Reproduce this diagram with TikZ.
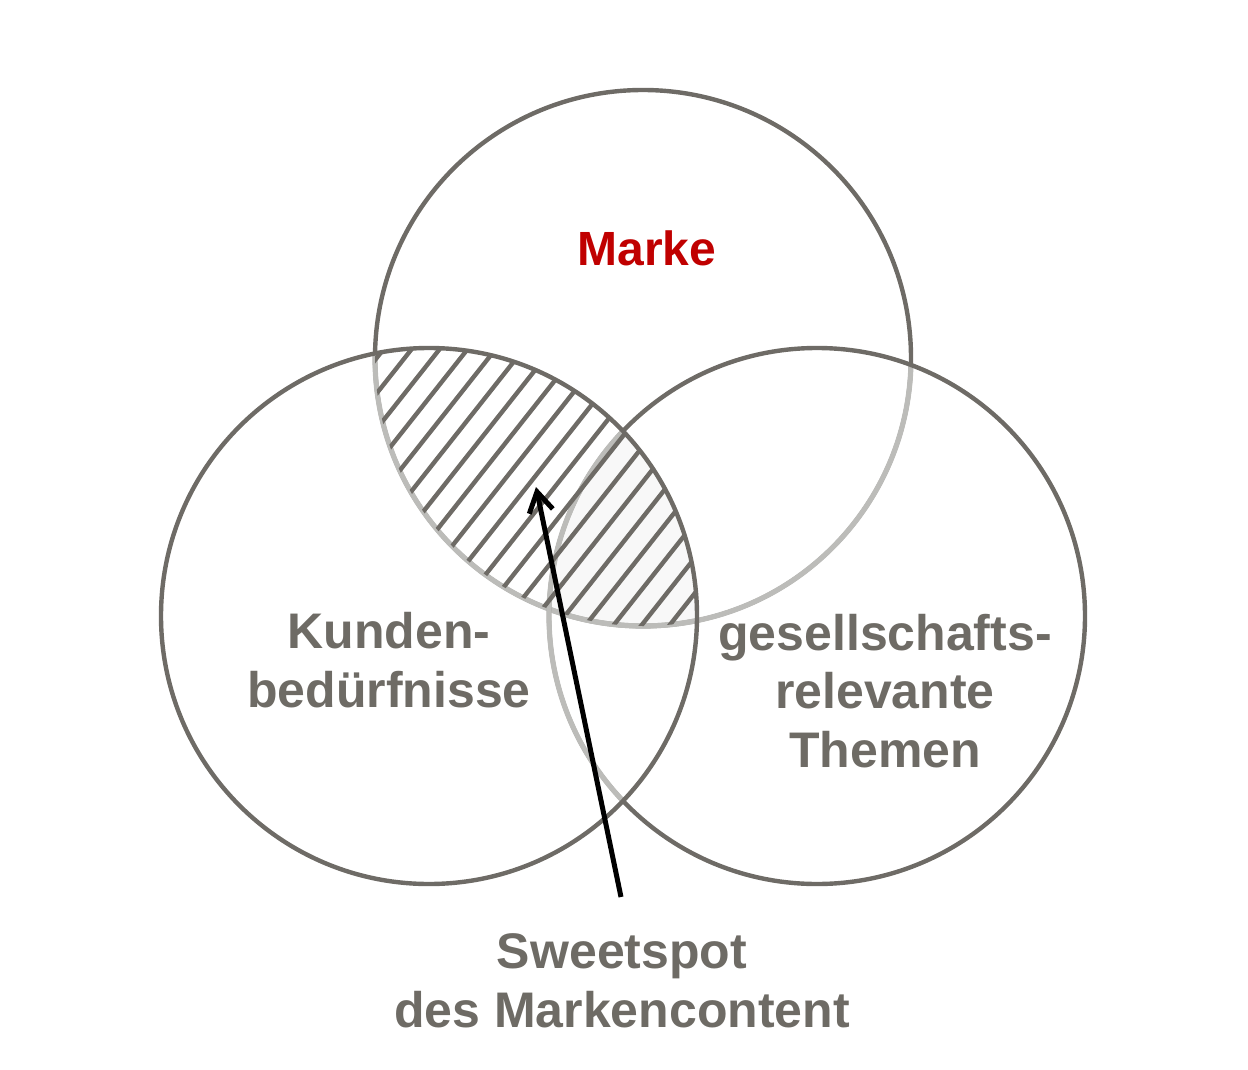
\documentclass[tikz,border=0pt]{standalone}
\usepackage{fontspec}
\setmainfont{Liberation Sans}
\usetikzlibrary{arrows.meta}
\definecolor{cdark}{RGB}{110,107,102}
\definecolor{clight}{RGB}{188,188,185}
\definecolor{ctext}{RGB}{110,107,101}
\definecolor{cred}{RGB}{192,0,0}
\definecolor{ctint}{RGB}{248,248,248}
\begin{document}
\begin{tikzpicture}[x=1pt,y=-1pt,
  ring/.style={draw=cdark,line width=4.4pt},
  ringlight/.style={draw=clight,line width=5.2pt},
  hatchline/.style={draw=cdark,line width=4.4pt},
  lbltext/.style={font=\fontsize{50}{58.5}\selectfont\bfseries,text=ctext,align=center,inner sep=0pt,anchor=base},
  pointer/.style={draw=black,line width=5pt,-{Straight Barb[length=20pt,width=24pt]}}
]
\useasboundingbox (0,0) rectangle (1248,1070);
\coordinate (ct) at (643,358);
\coordinate (cl) at (429,616);
\coordinate (cr) at (817,616);
\def\R{268}
% faint tint of the triple intersection
\begin{scope}
  \clip (ct) circle (\R);
  \clip (cl) circle (\R);
  \fill[ctint] (cr) circle (\R);
\end{scope}
% top circle (Marke)
\draw[ring] (ct) circle (\R);
\begin{scope}\clip (cl) circle (\R); \draw[ringlight] (ct) circle (\R);\end{scope}
\begin{scope}\clip (cr) circle (\R); \draw[ringlight] (ct) circle (\R);\end{scope}
% right circle
\draw[ring] (cr) circle (\R);
\begin{scope}\clip (cl) circle (\R); \draw[ringlight] (cr) circle (\R);\end{scope}
% hatching of top and left overlap
\begin{scope}
  \clip (ct) circle (\R);
  \clip (cl) circle (\R);
  \foreach \i in {-20,...,20}{
    \draw[hatchline] ({435+28*\i-0.62*600},{355+0.785*600}) -- ++({0.62*1200},{-0.785*1200});
  }
\end{scope}
% left circle
\draw[ring] (cl) circle (\R);
% texts (base anchor = baseline of the last line)
\node[lbltext,text=cred,font=\fontsize{48}{56}\selectfont\bfseries] (marke) at (647,265) {Marke};
\node[lbltext] (kunden) at (389,707) {Kunden-\\bedürfnisse};
\node[lbltext] (gesell) at (885,767) {gesellschafts-\\relevante\\Themen};
\node[lbltext] (sweet) at (622,1027) {Sweetspot\\des Markencontent};
% arrow
\coordinate (atail) at (621,897);
\coordinate (atip) at (536,487);
\draw[pointer] (atail) -- (atip);
\end{tikzpicture}
\end{document}
